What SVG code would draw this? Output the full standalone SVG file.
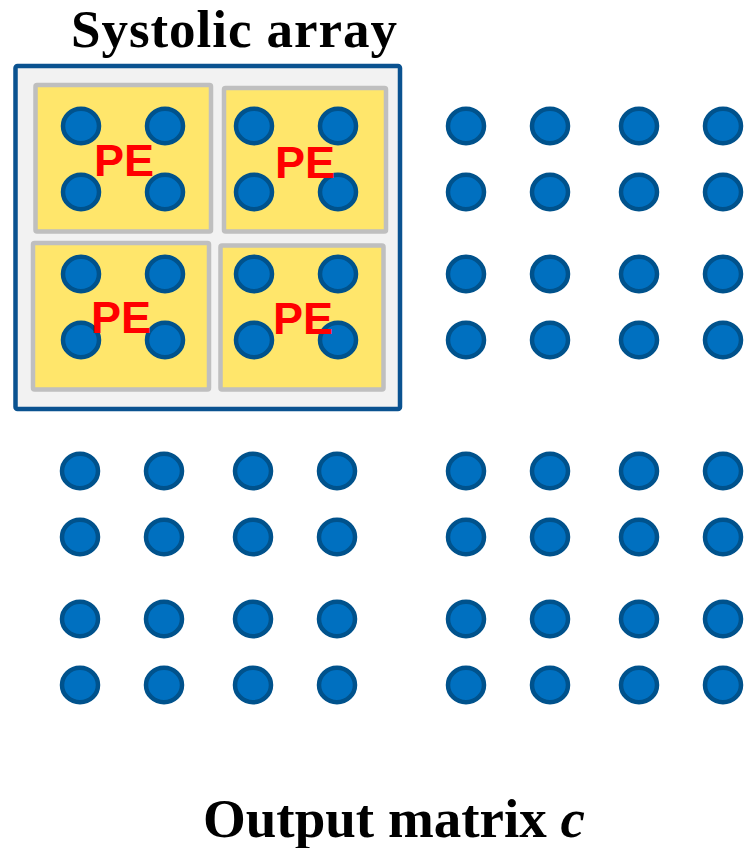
<svg xmlns="http://www.w3.org/2000/svg" width="746" height="848" viewBox="0 0 746 848">
<defs>
<style>
.title{font-family:"Liberation Serif","Times New Roman",serif;font-weight:bold;font-size:55px;fill:#000}
.pe{font-family:"Liberation Sans",Arial,sans-serif;font-weight:bold;font-size:45px;fill:#ff0000}
.peb{fill:#ffe66b;stroke:#bfbfbf;stroke-width:4.5}
.sa{fill:#f2f2f2;stroke:#0a5290;stroke-width:4.5}
</style>
<ellipse id="d" cx="0" cy="0" rx="18" ry="17.3" fill="#0070c0" stroke="#00528c" stroke-width="4.5"/>
</defs>
<rect width="746" height="848" fill="#fff"/>
<text class="title" x="71" y="47" style="font-size:53px" textLength="326" lengthAdjust="spacing">Systolic array</text>
<g id="systolic-array">
<rect class="sa" x="15.5" y="66" width="384.5" height="343" rx="2"/>
</g>
<g id="pe1">
<rect class="peb" x="35.5" y="85" width="175.5" height="146.5" rx="1.5"/>
<use href="#d" x="81" y="126"/><use href="#d" x="165" y="126"/>
<use href="#d" x="81" y="192"/><use href="#d" x="165" y="192"/>
<text class="pe" x="94" y="176">PE</text>
</g>
<g id="pe2">
<rect class="peb" x="224" y="88" width="162" height="143.5" rx="1.5"/>
<use href="#d" x="254" y="126"/><use href="#d" x="338" y="126"/>
<use href="#d" x="254" y="192"/><use href="#d" x="338" y="192"/>
<text class="pe" x="275" y="178">PE</text>
</g>
<g id="pe3">
<rect class="peb" x="33" y="243" width="176" height="146.5" rx="1.5"/>
<use href="#d" x="81" y="274"/><use href="#d" x="165" y="274"/>
<use href="#d" x="81" y="340"/><use href="#d" x="165" y="340"/>
<text class="pe" x="91" y="333">PE</text>
</g>
<g id="pe4">
<rect class="peb" x="220.5" y="245.5" width="163" height="144" rx="1.5"/>
<use href="#d" x="254" y="274"/><use href="#d" x="338" y="274"/>
<use href="#d" x="254" y="340"/><use href="#d" x="338" y="340"/>
<text class="pe" x="273" y="334">PE</text>
</g>
<g id="block-tr">
<use href="#d" x="466" y="126"/><use href="#d" x="550" y="126"/><use href="#d" x="639" y="126"/><use href="#d" x="723" y="126"/>
<use href="#d" x="466" y="192"/><use href="#d" x="550" y="192"/><use href="#d" x="639" y="192"/><use href="#d" x="723" y="192"/>
<use href="#d" x="466" y="274"/><use href="#d" x="550" y="274"/><use href="#d" x="639" y="274"/><use href="#d" x="723" y="274"/>
<use href="#d" x="466" y="340"/><use href="#d" x="550" y="340"/><use href="#d" x="639" y="340"/><use href="#d" x="723" y="340"/>
</g>
<g id="block-bl">
<use href="#d" x="80" y="471"/><use href="#d" x="164" y="471"/><use href="#d" x="253" y="471"/><use href="#d" x="337" y="471"/>
<use href="#d" x="80" y="537"/><use href="#d" x="164" y="537"/><use href="#d" x="253" y="537"/><use href="#d" x="337" y="537"/>
<use href="#d" x="80" y="619"/><use href="#d" x="164" y="619"/><use href="#d" x="253" y="619"/><use href="#d" x="337" y="619"/>
<use href="#d" x="80" y="685"/><use href="#d" x="164" y="685"/><use href="#d" x="253" y="685"/><use href="#d" x="337" y="685"/>
</g>
<g id="block-br">
<use href="#d" x="466" y="471"/><use href="#d" x="550" y="471"/><use href="#d" x="639" y="471"/><use href="#d" x="723" y="471"/>
<use href="#d" x="466" y="537"/><use href="#d" x="550" y="537"/><use href="#d" x="639" y="537"/><use href="#d" x="723" y="537"/>
<use href="#d" x="466" y="619"/><use href="#d" x="550" y="619"/><use href="#d" x="639" y="619"/><use href="#d" x="723" y="619"/>
<use href="#d" x="466" y="685"/><use href="#d" x="550" y="685"/><use href="#d" x="639" y="685"/><use href="#d" x="723" y="685"/>
</g>
<g id="connectors"></g>
<text class="title" x="203" y="837">Output matrix <tspan font-style="italic">c</tspan></text>
</svg>
